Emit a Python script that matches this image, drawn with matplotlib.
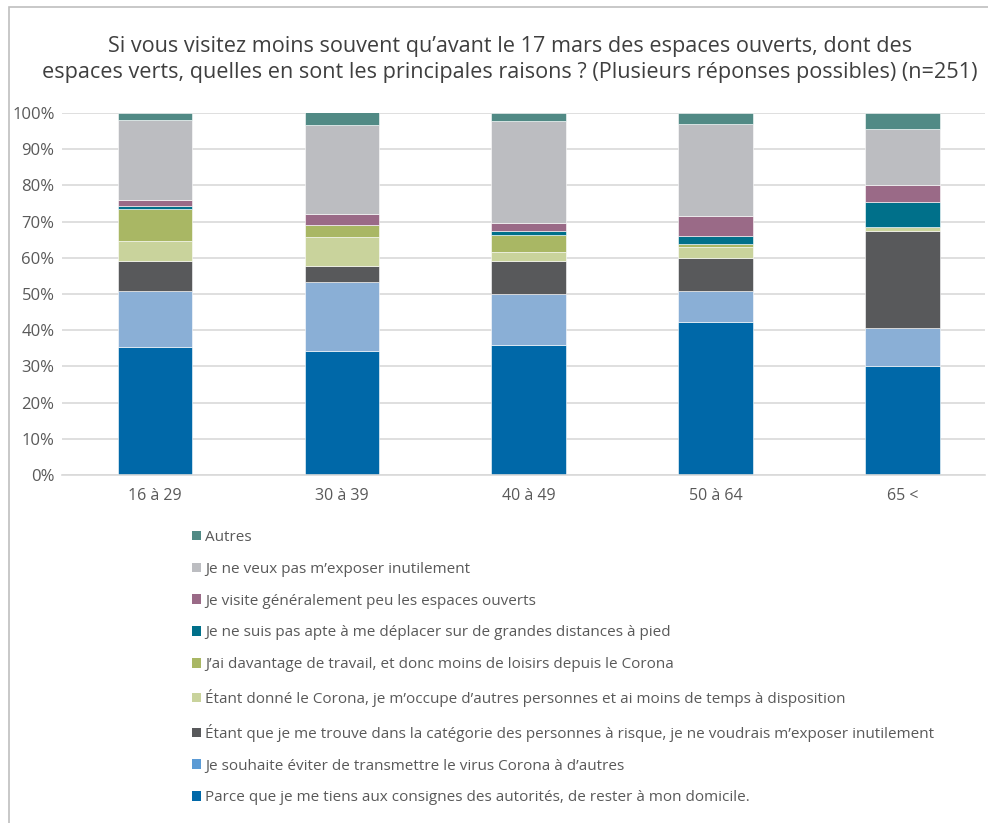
import matplotlib
matplotlib.use("Agg")
import matplotlib.pyplot as plt
from matplotlib.patches import Rectangle, Patch
from matplotlib.ticker import PercentFormatter

plt.rcParams["font.family"] = ["Open Sans", "DejaVu Sans"]

groups = ["16 à 29", "30 à 39", "40 à 49", "50 à 64", "65 <"]

# stacked from bottom to top
series_labels = [
    "Parce que je me tiens aux consignes des autorités, de rester à mon domicile.",
    "Je souhaite éviter de transmettre le virus Corona à d\u2019autres",
    "Étant que je me trouve dans la catégorie des personnes à risque, je ne voudrais m\u2019exposer inutilement",
    "Étant donné le Corona, je m\u2019occupe d\u2019autres personnes et ai moins de temps à disposition",
    "J\u2019ai davantage de travail, et donc moins de loisirs depuis le Corona",
    "Je ne suis pas apte à me déplacer sur de grandes distances à pied",
    "Je visite généralement peu les espaces ouverts",
    "Je ne veux pas m\u2019exposer inutilement",
    "Autres",
]
consignes = [35.4, 34.3, 35.9, 42.2, 30.2]
transmettre = [15.4, 19.0, 14.1, 8.5, 10.5]
risque = [8.3, 4.5, 9.2, 9.2, 26.7]
occupe = [5.5, 7.9, 2.4, 3.1, 1.2]
travail = [9.0, 3.3, 4.7, 0.8, 0.0]
pas_apte = [0.6, 0.0, 1.1, 2.3, 6.9]
peu_visite = [1.8, 3.2, 2.2, 5.4, 4.6]
exposer = [22.1, 24.5, 28.3, 25.5, 15.4]
autres = [1.9, 3.6, 2.1, 3.0, 4.5]
series_values = [consignes, transmettre, risque, occupe, travail,
                 pas_apte, peu_visite, exposer, autres]
colors = ["#0068A8", "#8AAFD6", "#58595B", "#C9D39C", "#A9B764",
          "#00708A", "#9A6A87", "#BCBDC1", "#518A85"]
legend_colors = ["#0068A8", "#5B9BD5", "#58595B", "#C9D39C", "#A9B764",
                 "#00708A", "#9A6A87", "#BCBDC1", "#518A85"]

fig = plt.figure(figsize=(9.88, 8.23), dpi=100)
# chart frame, cut by the right and bottom edges of the image
fig.patches.append(Rectangle((9 / 988, -0.01), 1.0, 1 - 7 / 823 + 0.01,
                             transform=fig.transFigure, fill=False,
                             edgecolor="#BFBFBF", linewidth=1.2))

ax = fig.add_axes([61.5 / 988, 348 / 823, (985 - 61.5) / 988, 362 / 823])
x = list(range(len(groups)))
bottom = [0.0] * len(groups)
for vals, c in zip(series_values, colors):
    ax.bar(x, vals, 0.4, bottom=bottom, color=c, edgecolor="white", linewidth=0.4)
    bottom = [b + v for b, v in zip(bottom, vals)]

ax.set_ylim(0, 100)
ax.set_xlim(-0.5, 4.44)
ax.set_yticks(range(0, 101, 10))
ax.yaxis.set_major_formatter(PercentFormatter(decimals=0))
ax.set_xticks(x)
ax.set_xticklabels(groups)
ax.grid(axis="y", color="#D9D9D9", linewidth=1.2)
ax.set_axisbelow(True)
for s in ["top", "right", "left"]:
    ax.spines[s].set_visible(False)
ax.spines["bottom"].set_color("#D9D9D9")
ax.spines["bottom"].set_linewidth(1.2)
ax.tick_params(length=0, colors="#595959")
ax.tick_params(axis="x", pad=9, labelsize=11.5)
ax.tick_params(axis="y", pad=5, labelsize=12)

fig.text(510 / 988, 1 - 59.5 / 823,
         "Si vous visitez moins souvent qu\u2019avant le 17 mars des espaces ouverts, dont des\n"
         "espaces verts, quelles en sont les principales raisons ? (Plusieurs réponses possibles) (n=251)",
         ha="center", va="center", fontsize=15.6, color="#3F3F3F", linespacing=1.32)

handles = [Patch(facecolor=c) for c in legend_colors][::-1]
fig.legend(handles, series_labels[::-1], loc="upper left",
           bbox_to_anchor=(192 / 988, 1 - 530 / 823), frameon=False,
           fontsize=11, labelcolor="#595959", handlelength=0.6, handleheight=0.6,
           handletextpad=0.25, labelspacing=1.1, borderaxespad=0, borderpad=0)

fig.savefig("out.png", dpi=100)
